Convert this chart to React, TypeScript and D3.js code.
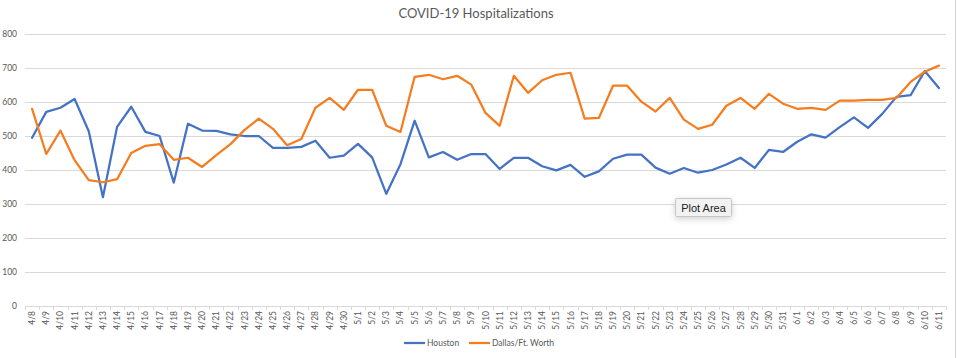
import React from "react";
import * as d3 from "d3";

const dates: string[] = [
  "4/8","4/9","4/10","4/11","4/12","4/13","4/14","4/15","4/16","4/17","4/18","4/19","4/20","4/21","4/22","4/23","4/24","4/25","4/26","4/27","4/28","4/29","4/30",
  "5/1","5/2","5/3","5/4","5/5","5/6","5/7","5/8","5/9","5/10","5/11","5/12","5/13","5/14","5/15","5/16","5/17","5/18","5/19","5/20","5/21","5/22","5/23","5/24","5/25","5/26","5/27","5/28","5/29","5/30","5/31",
  "6/1","6/2","6/3","6/4","6/5","6/6","6/7","6/8","6/9","6/10","6/11",
];

const houston: number[] = [
  495,571,583,609,514,320,527,586,512,500,363,536,516,515,505,500,500,465,465,468,486,436,442,
  477,437,330,417,545,437,453,430,447,447,403,436,436,411,399,415,380,396,433,445,445,407,389,406,392,400,416,436,406,459,453,
  483,505,495,526,555,524,565,615,620,691,641,
];

const dallas: number[] = [
  580,447,516,429,370,364,373,450,471,476,430,436,409,444,476,518,551,521,473,491,583,612,577,
  636,636,530,512,674,680,667,677,651,568,530,677,627,664,680,686,551,553,648,648,601,572,612,548,521,533,589,612,580,624,595,
  580,583,577,604,604,606,606,612,659,689,707,
];

const yTicks: number[] = [0, 100, 200, 300, 400, 500, 600, 700, 800];

const seriesNames: string[] = ["Houston", "Dallas/Ft. Worth"];
const seriesColors: string[] = ["#4472C4", "#F57D1F"];

const W = 958;
const H = 358;
const FONT = "Lato, 'Open Sans', sans-serif";
const TXT = "#595959";

export default function App() {
  const x = d3.scaleBand<string>().domain(dates).range([25, 946]).padding(0);
  const y = d3.scaleLinear().domain([0, 800]).range([306, 34]);
  const cx = (d: string) => (x(d) as number) + x.bandwidth() / 2;

  const line = d3
    .line<number>()
    .x((_, i) => cx(dates[i]))
    .y((v) => y(v));

  const series = [houston, dallas];

  return (
    <svg
      width={W}
      height={H}
      style={{ position: "absolute", left: 0, top: 0, background: "#fff" }}
      fontFamily={FONT}
    >
      <defs>
        <filter id="sh" x="-30%" y="-50%" width="160%" height="220%">
          <feDropShadow dx="0" dy="2" stdDeviation="3" floodColor="#000" floodOpacity="0.18" />
        </filter>
      </defs>
      <rect x={0} y={0} width={W} height={H} fill="#fff" />
      <line x1={955.5} x2={955.5} y1={0} y2={H} stroke="#d4d4d4" />

      <text x={476} y={18} textAnchor="middle" fontSize={13} fill={TXT}>
        COVID-19 Hospitalizations
      </text>

      {yTicks.map((t) => (
        <g key={t}>
          {t > 0 && (
            <line x1={25} x2={946} y1={Math.round(y(t)) + 0.5} y2={Math.round(y(t)) + 0.5} stroke="#d9d9d9" strokeWidth={1} />
          )}
          <text x={17} y={y(t) + 3} textAnchor="end" fontSize={8.5} fill={TXT}>
            {t}
          </text>
        </g>
      ))}

      <line x1={25} x2={946} y1={306.5} y2={306.5} stroke="#d9d9d9" />
      {dates.map((d) => (
        <line key={"tk" + d} x1={Math.round(x(d) as number) + 0.5} x2={Math.round(x(d) as number) + 0.5} y1={306} y2={310} stroke="#d9d9d9" />
      ))}
      <line x1={946.5} x2={946.5} y1={306} y2={310} stroke="#d9d9d9" />

      {dates.map((d) => (
        <text
          key={"lb" + d}
          transform={`translate(${cx(d) + 3},311) rotate(-90)`}
          textAnchor="end"
          fontSize={8.5}
          fill={TXT}
        >
          {d}
        </text>
      ))}

      {series.map((s, i) => (
        <path
          key={seriesNames[i]}
          d={line(s) as string}
          fill="none"
          stroke={seriesColors[i]}
          strokeWidth={2.25}
          strokeLinejoin="round"
          strokeLinecap="round"
        />
      ))}

      <g>
        <line x1={404} x2={425} y1={343} y2={343} stroke={seriesColors[0]} strokeWidth={2.25} />
        <text x={427} y={346} fontSize={8.5} fill={TXT}>{seriesNames[0]}</text>
        <line x1={469} x2={490} y1={343} y2={343} stroke={seriesColors[1]} strokeWidth={2.25} />
        <text x={492} y={346} fontSize={8.5} fill={TXT}>{seriesNames[1]}</text>
      </g>

      <g filter="url(#sh)">
        <rect x={675.5} y={198.5} width={56} height={18} fill="#f2f2f2" stroke="#c6c6c6" rx={1} />
      </g>
      <text x={703.5} y={211.5} textAnchor="middle" fontSize={11} fill="#222" fontFamily="'Liberation Sans', Arial, sans-serif">
        Plot Area
      </text>
    </svg>
  );
}
